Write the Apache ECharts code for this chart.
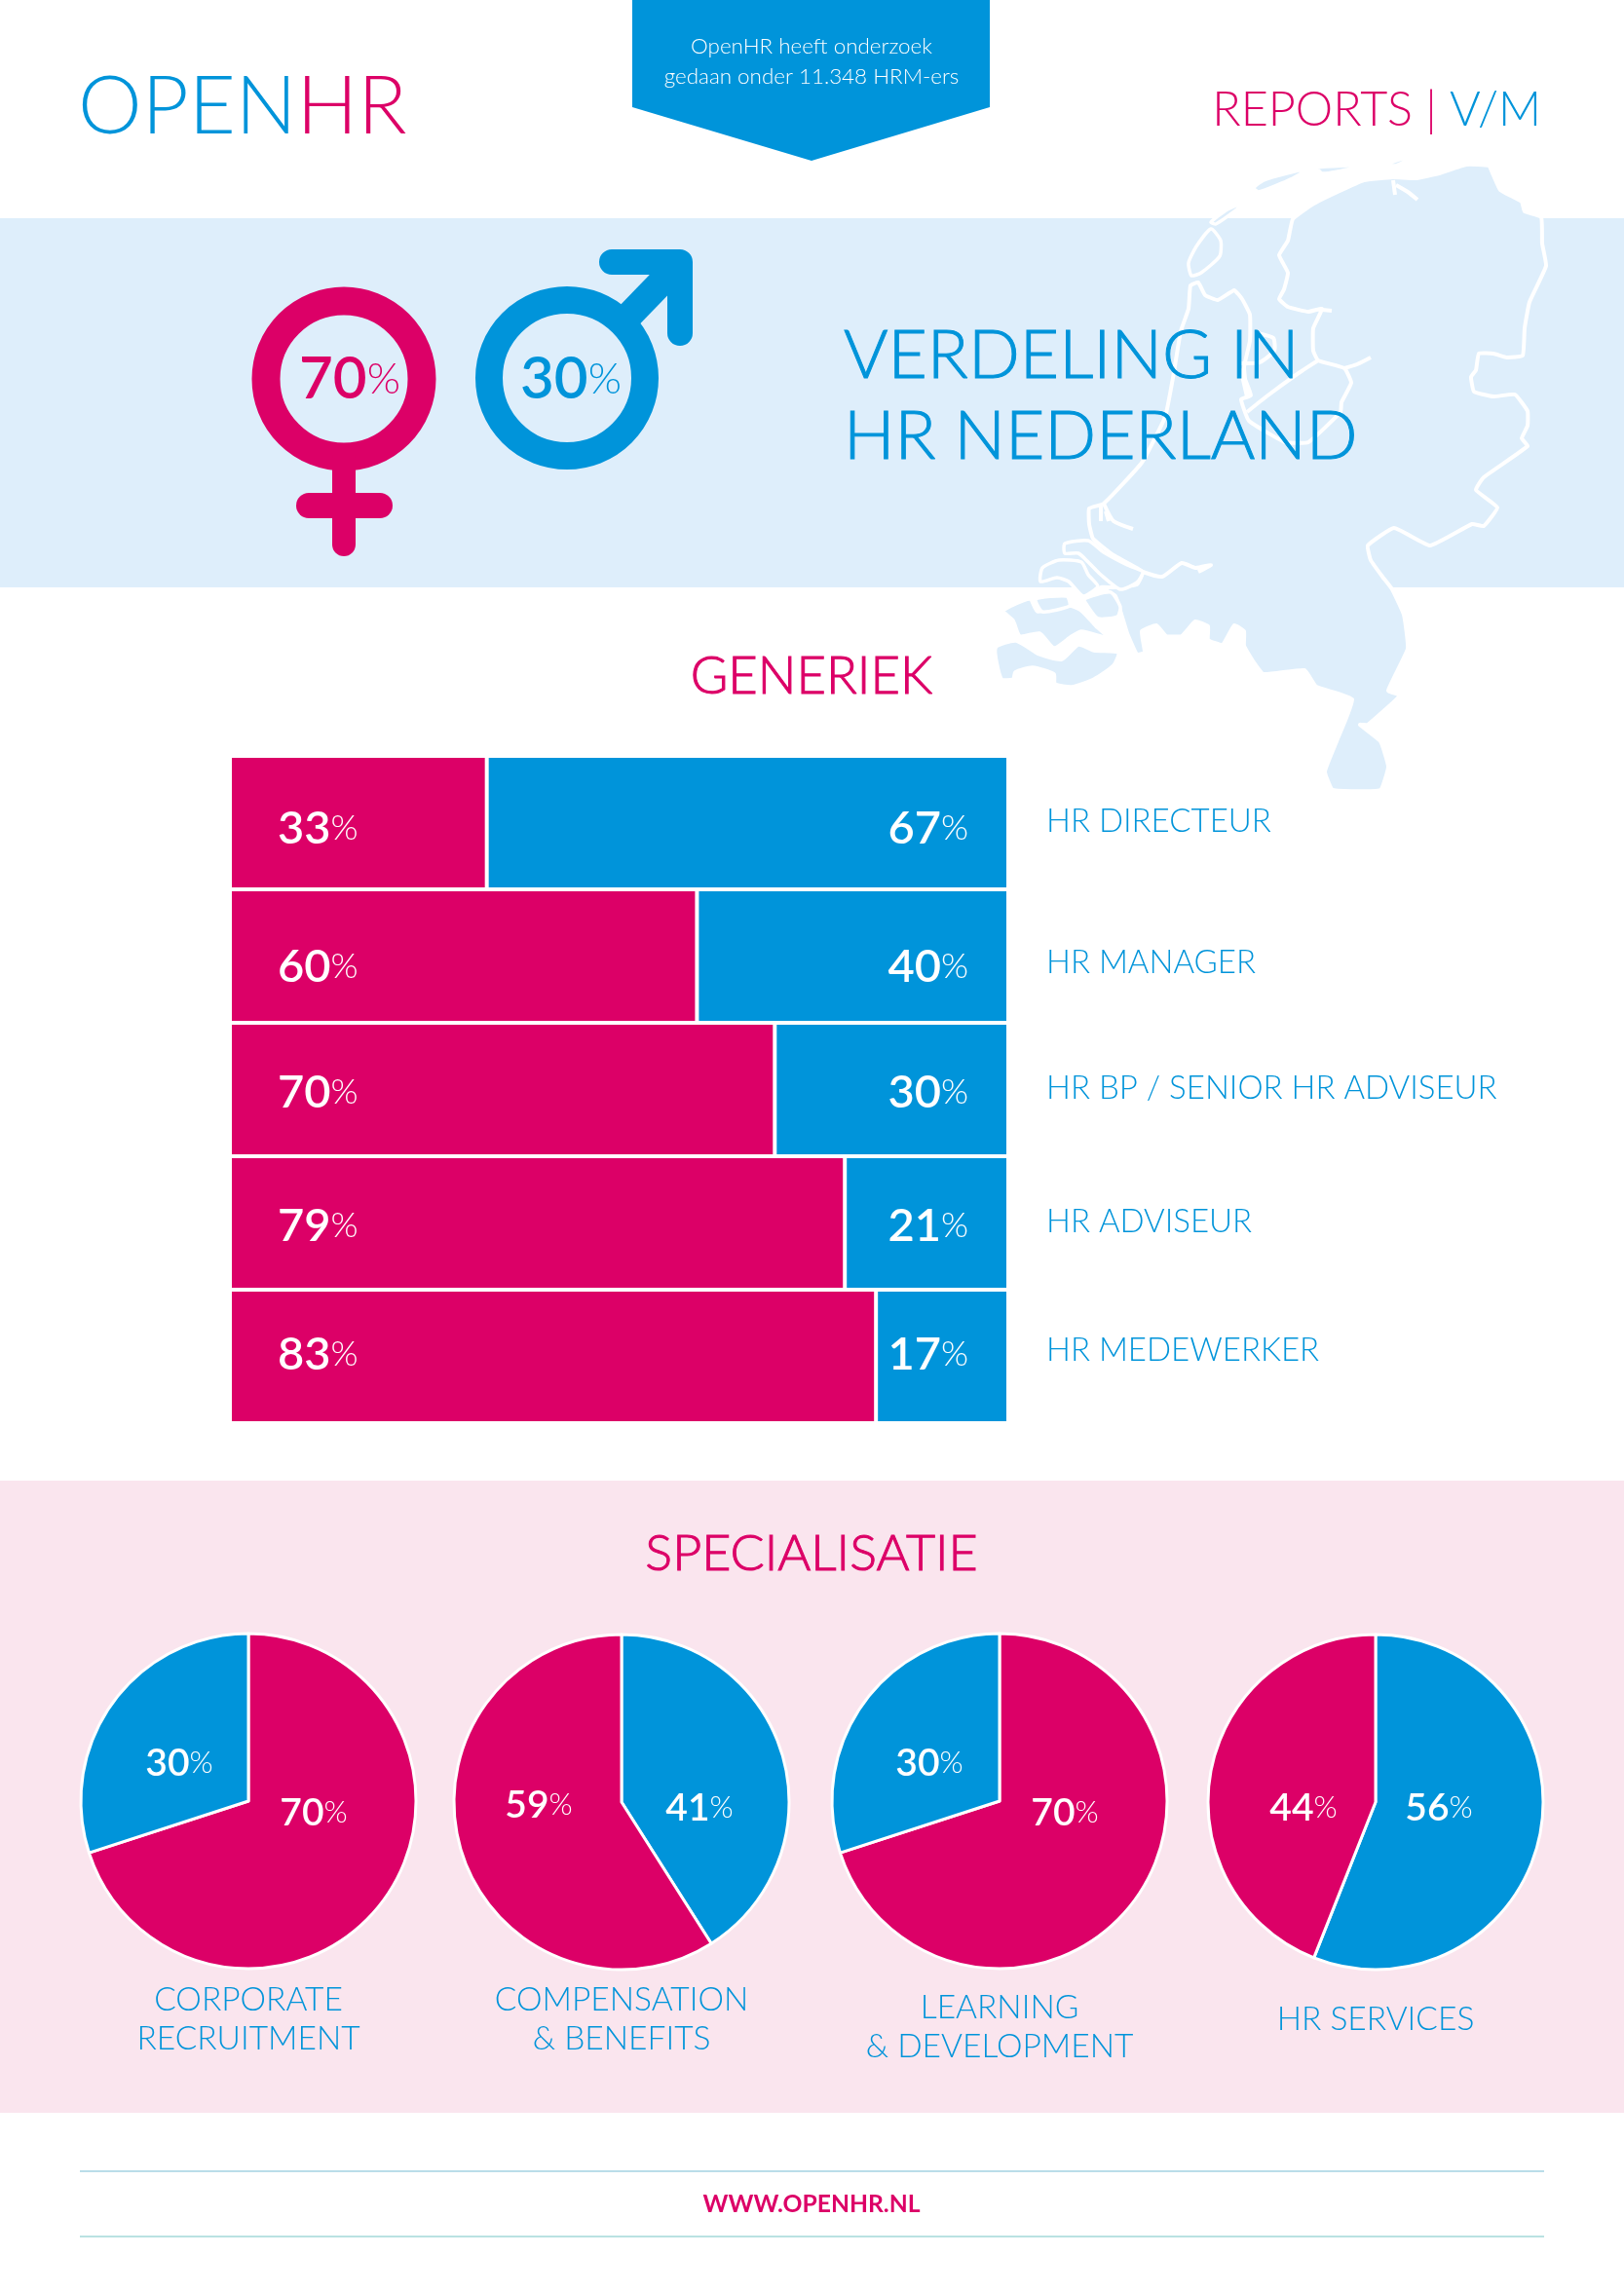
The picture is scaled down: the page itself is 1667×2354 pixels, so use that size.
<!DOCTYPE html>
<html>
<head>
<meta charset="utf-8">
<title>OpenHR Reports V/M</title>
<script src="https://cdn.jsdelivr.net/npm/echarts@6/dist/echarts.min.js"></script>
<style>
  html, body { margin: 0; padding: 0; background: #fff; }
  #chart { width: 1667px; height: 2354px; }
</style>
</head>
<body>
<div id="chart"></div>
<script>
// data
const overallFemale = 70;
const overallMale = 30;

const genericRoles = ['HR DIRECTEUR', 'HR MANAGER', 'HR BP / SENIOR HR ADVISEUR', 'HR ADVISEUR', 'HR MEDEWERKER'];
const genericFemale = [33, 60, 70, 79, 83];
const genericMale = [67, 40, 30, 21, 17];

const specialisms = ['CORPORATE\nRECRUITMENT', 'COMPENSATION\n& BENEFITS', 'LEARNING\n& DEVELOPMENT', 'HR SERVICES'];
const specialismFemale = [70, 59, 70, 44];
const specialismMale = [30, 41, 30, 56];

const MAGENTA = '#dc0067';
const BLUE = '#0094da';
const BAND_BLUE = '#deeefb';
const BAND_PINK = '#fae5ee';
const FONT = 'Lato';

// hand placed details of the layout
const barLabelShift = [6, 11, 3, 3, -2];
const roleLabelShift = [-1, 7, -1, -1, -6];
const pieCenters = [[255, 1849], [638, 1850], [1026, 1849], [1412, 1850]];
const pieOrder = ['female', 'male', 'female', 'male']; // first slice clockwise from the top
const pieFemaleLabel = [[67, 12], [-85, 3], [67, 12], [-74, 6]];
const pieMaleLabel = [[-71, -39], [80, 6], [-72, -39], [65, 6]];
const captionY = [2073, 2073, 2081, 2073];

// Netherlands in page pixels
const nlMainland = [[1230,290],[1222,293],[1220,317],[1212,340],[1204,388],[1196,428],[1172,475],[1133,517],[1118,522],[1118,538],[1122,553],[1143,570],[1173,587],[1167,600],[1143,603],[1130,603],[1145,612],[1150,627],[1157,650],[1167,672],[1175,670],[1172,648],[1187,642],[1197,653],[1213,653],[1227,638],[1240,643],[1240,657],[1255,662],[1267,642],[1277,648],[1277,663],[1285,677],[1297,692],[1339,688],[1351,705],[1388,718],[1372,761],[1360,792],[1368,811],[1417,811],[1425,787],[1417,761],[1396,744],[1404,744],[1437,714],[1425,709],[1445,666],[1441,631],[1429,605],[1419,592],[1407,575],[1404,560],[1431,542],[1468,560],[1511,538],[1523,540],[1537,521],[1515,503],[1523,490],[1568,458],[1562,450],[1568,437],[1568,422],[1555,405],[1533,407],[1513,402],[1510,387],[1515,380],[1518,363],[1533,363],[1547,367],[1563,365],[1565,337],[1570,310],[1587,273],[1583,250],[1582,223],[1565,217],[1562,207],[1540,195],[1533,180],[1528,170],[1505,169],[1477,178],[1453,183],[1430,182],[1400,185],[1373,197],[1347,210],[1327,225],[1322,247],[1313,262],[1322,280],[1318,297],[1313,307],[1322,315],[1343,320],[1357,317],[1348,337],[1348,360],[1353,370],[1380,378],[1387,393],[1377,413],[1376,423],[1343,454],[1319,454],[1282,432],[1274,410],[1284,406],[1274,380],[1280,407],[1277,377],[1283,350],[1283,323],[1275,307],[1267,298],[1250,308],[1237,303]];
const nlIslands = [
  [[1243,235],[1253,247],[1252,263],[1233,280],[1223,283],[1220,270],[1228,253]],
  [[1243,228],[1260,215],[1278,208],[1263,220],[1248,230]],
  [[1287,193],[1297,185],[1343,173],[1327,183],[1292,197]],
  [[1352,172],[1400,170],[1373,176],[1357,178]],
  [[1425,168],[1453,159],[1433,170]],
  // Zeeland and Zuid-Holland islands
  [[1022,665],[1043,658],[1067,672],[1090,677],[1107,662],[1123,668],[1148,670],[1143,683],[1123,697],[1100,705],[1083,702],[1082,692],[1060,685],[1042,690],[1040,697],[1028,697]],
  [[1030,627],[1057,615],[1065,628],[1098,622],[1110,627],[1125,643],[1138,655],[1110,648],[1100,653],[1082,665],[1067,650],[1047,653],[1040,637]],
  [[1113,615],[1140,608],[1150,623],[1147,633],[1127,635],[1117,623]],
  [[1063,615],[1095,612],[1098,622],[1070,628]],
  [[1070,583],[1087,575],[1110,577],[1117,590],[1127,602],[1112,612],[1097,597],[1085,593],[1068,597]],
  [[1093,558],[1117,555],[1133,567],[1157,580],[1173,587],[1167,598],[1150,605],[1130,590],[1117,577],[1107,568],[1093,568]]
];
const nlWaters = [
  [[1353,370],[1333,383],[1300,407],[1280,423]],
  [[1380,378],[1393,374],[1407,367]],
  [[1357,318],[1367,319]],
  [[1290,342],[1307,347],[1308,360],[1293,372],[1273,373]],
  [[1133,517],[1143,535],[1163,543]],
  [[1130,520],[1130,535]],
  [[1135,525],[1138,535]],
  [[1173,587],[1193,592],[1213,578],[1227,583],[1243,580],[1230,587]],
  [[1430,185],[1432,200]],
  [[1433,190],[1445,197],[1455,205]]
];

const chart = echarts.init(document.getElementById('chart'), null, { renderer: 'canvas' });

function heading(text, x, y, size, color, weight, align, lineHeight) {
  return {
    text: text,
    left: x,
    top: y,
    textAlign: align || 'center',
    textVerticalAlign: 'middle',
    padding: 0,
    textStyle: { fontFamily: FONT, fontSize: size, fontWeight: weight || 300, color: color, lineHeight: lineHeight || size * 1.15 }
  };
}

// light letters thickened a little, the original weight sits between Lato Light and Regular
function thickHeading(text, x, y, size, color, align) {
  const t = heading(text, x, y, size, color, 300, align);
  t.textStyle.textBorderColor = color;
  t.textStyle.textBorderWidth = 1;
  return t;
}

function richHeading(text, x, y, rich, align) {
  const t = heading(text, x, y, 40, '#000', 300, align);
  t.textStyle.rich = rich;
  return t;
}

const numberRich = (numSize, pctSize) => ({
  n: { fontFamily: FONT, fontSize: numSize, fontWeight: 600, color: '#fff' },
  p: { fontFamily: FONT, fontSize: pctSize, fontWeight: 300, color: '#fff' }
});

const titles = [
  richHeading('{a|OPEN}{b|HR}', 80, 110, {
    a: { fontFamily: FONT, fontSize: 83, fontWeight: 300, color: BLUE },
    b: { fontFamily: FONT, fontSize: 83, fontWeight: 300, color: MAGENTA }
  }, 'left'),
  heading('OpenHR heeft onderzoek\ngedaan onder 11.348 HRM-ers', 833, 63, 22.4, '#fff', 300, 'center', 31),
  richHeading('{a|REPORTS | }{b|V/M}', 1582, 113, {
    a: { fontFamily: FONT, fontSize: 48.5, fontWeight: 300, color: MAGENTA },
    b: { fontFamily: FONT, fontSize: 48.5, fontWeight: 300, color: BLUE }
  }, 'right'),
  richHeading('{a|' + overallFemale + '}{b|%}', 359, 390, {
    a: { fontFamily: FONT, fontSize: 60, fontWeight: 600, color: MAGENTA },
    b: { fontFamily: FONT, fontSize: 44, fontWeight: 300, color: MAGENTA }
  }),
  richHeading('{a|' + overallMale + '}{b|%}', 586, 390, {
    a: { fontFamily: FONT, fontSize: 60, fontWeight: 600, color: BLUE },
    b: { fontFamily: FONT, fontSize: 44, fontWeight: 300, color: BLUE }
  }),
  thickHeading('VERDELING IN', 866, 366, 69.5, BLUE, 'left'),
  thickHeading('HR NEDERLAND', 866, 449, 69.5, BLUE, 'left'),
  thickHeading('GENERIEK', 833, 695, 52.5, MAGENTA),
  thickHeading('SPECIALISATIE', 833, 1595, 52, MAGENTA),
  heading('WWW.OPENHR.NL', 833, 2263, 24.7, MAGENTA, 'bold')
];
specialisms.forEach((name, i) => {
  titles.push(heading(name, pieCenters[i][0], captionY[i], 33.5, BLUE, 300, 'center', 40));
});

const series = [
  {
    name: 'Vrouw',
    type: 'bar',
    stack: 'gender',
    barWidth: '100%',
    itemStyle: { color: MAGENTA, borderColor: '#fff', borderWidth: 2 },
    label: {
      show: true,
      position: 'insideLeft',
      distance: 49,
      formatter: p => '{n|' + p.value + '}{p|%}',
      rich: numberRich(47, 36)
    },
    data: genericFemale.map((v, i) => ({ value: v, label: { offset: [0, barLabelShift[i]] } }))
  },
  {
    name: 'Man',
    type: 'bar',
    stack: 'gender',
    barWidth: '100%',
    itemStyle: { color: BLUE, borderColor: '#fff', borderWidth: 2 },
    label: {
      show: true,
      position: 'insideRight',
      distance: 41,
      formatter: p => '{n|' + p.value + '}{p|%}',
      rich: numberRich(47, 36)
    },
    data: genericMale.map((v, i) => ({ value: v, label: { offset: [0, barLabelShift[i]] } }))
  }
];

specialisms.forEach((name, i) => {
  const female = { name: 'Vrouw', value: specialismFemale[i], itemStyle: { color: MAGENTA } };
  const male = { name: 'Man', value: specialismMale[i], itemStyle: { color: BLUE } };
  const femaleFirst = pieOrder[i] === 'female';
  const shifts = femaleFirst ? [pieFemaleLabel[i], pieMaleLabel[i]] : [pieMaleLabel[i], pieFemaleLabel[i]];
  series.push({
    name: name,
    type: 'pie',
    center: pieCenters[i],
    radius: [0, 172],
    startAngle: 90,
    clockwise: true,
    itemStyle: { borderColor: '#fff', borderWidth: 3 },
    label: {
      show: true,
      position: 'center',
      formatter: p => '{n|' + p.value + '}{p|%}',
      rich: numberRich(39, 31)
    },
    labelLine: { show: false },
    labelLayout: params => ({ dx: shifts[params.dataIndex][0], dy: shifts[params.dataIndex][1] }),
    data: femaleFirst ? [female, male] : [male, female]
  });
});

// shapes around the charts: bands, map, banner, gender icons, footer rules
const graphics = [
  { type: 'rect', shape: { x: 0, y: 224, width: 1667, height: 379 }, style: { fill: BAND_BLUE } },
  { type: 'rect', shape: { x: 0, y: 1520, width: 1667, height: 649 }, style: { fill: BAND_PINK } },
  { type: 'polygon', shape: { points: nlMainland, smooth: 0.12 }, style: { fill: BAND_BLUE, stroke: '#fff', lineWidth: 4 } }
];
nlIslands.forEach(pts => {
  graphics.push({ type: 'polygon', shape: { points: pts, smooth: 0.2 }, style: { fill: BAND_BLUE, stroke: '#fff', lineWidth: 3.5 } });
});
nlWaters.forEach(pts => {
  graphics.push({ type: 'polyline', shape: { points: pts, smooth: 0.2 }, style: { fill: null, stroke: '#fff', lineWidth: 4 } });
});
graphics.push(
  { type: 'polygon', shape: { points: [[649, 0], [1016, 0], [1016, 110], [833, 165], [649, 110]] }, style: { fill: BLUE } },
  // female
  { type: 'circle', shape: { cx: 353, cy: 389, r: 80 }, style: { fill: null, stroke: MAGENTA, lineWidth: 29 } },
  { type: 'line', shape: { x1: 353, y1: 470, x2: 353, y2: 559 }, style: { stroke: MAGENTA, lineWidth: 24, lineCap: 'round' } },
  { type: 'line', shape: { x1: 317, y1: 519, x2: 390, y2: 519 }, style: { stroke: MAGENTA, lineWidth: 26, lineCap: 'round' } },
  // male
  { type: 'circle', shape: { cx: 582, cy: 388, r: 80 }, style: { fill: null, stroke: BLUE, lineWidth: 28 } },
  { type: 'line', shape: { x1: 636, y1: 334, x2: 696, y2: 272 }, style: { stroke: BLUE, lineWidth: 28 } },
  { type: 'polyline', shape: { points: [[628, 269], [698, 269], [698, 342]] }, style: { fill: null, stroke: BLUE, lineWidth: 26, lineCap: 'round', lineJoin: 'round' } },
  // footer
  { type: 'line', shape: { x1: 82, y1: 2229, x2: 1585, y2: 2229 }, style: { stroke: '#a3d2e2', lineWidth: 1.5 } },
  { type: 'line', shape: { x1: 82, y1: 2296, x2: 1585, y2: 2296 }, style: { stroke: '#a3d9d8', lineWidth: 1.5 } }
);

chart.setOption({
  animation: false,
  backgroundColor: '#ffffff',
  title: titles,
  grid: { left: 236, top: 776, width: 799, height: 685 },
  xAxis: { type: 'value', min: 0, max: 100, show: false },
  yAxis: {
    type: 'category',
    inverse: true,
    position: 'right',
    data: genericRoles,
    axisLine: { show: false },
    axisTick: { show: false },
    axisLabel: {
      margin: 39,
      formatter: (value, index) => '{r' + index + '|' + value + '}',
      rich: Object.fromEntries(roleLabelShift.map((s, i) => ['r' + i, {
        fontFamily: FONT,
        fontSize: 33,
        fontWeight: 300,
        color: BLUE,
        padding: s > 0 ? [s * 2, 0, 0, 0] : [0, 0, -s * 2, 0]
      }]))
    }
  },
  graphic: { elements: graphics },
  series: series
});

window.addEventListener('resize', () => {
  chart.resize();
});
</script>
</body>
</html>
